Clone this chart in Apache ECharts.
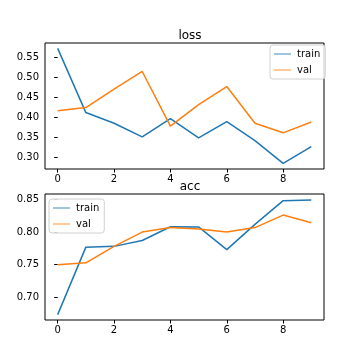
<!DOCTYPE html>
<html>
<head>
<meta charset="utf-8">
<script src="https://cdn.jsdelivr.net/npm/echarts@6/dist/echarts.min.js"></script>
<style>html,body{margin:0;padding:0;background:#fff;}#c{width:360px;height:360px;}</style>
</head>
<body>
<div id="c"></div>
<script>
const epochs = [0,1,2,3,4,5,6,7,8,9];
const lossTrain = [0.5715,0.4115,0.385,0.351,0.3965,0.3483,0.389,0.3415,0.285,0.3265];
const lossVal   = [0.4158,0.424,0.470,0.514,0.3775,0.4315,0.4765,0.385,0.361,0.388];
const accTrain  = [0.6727,0.7768,0.778,0.787,0.8083,0.808,0.773,0.812,0.8485,0.8495];
const accVal    = [0.7495,0.7526,0.778,0.800,0.807,0.8047,0.800,0.807,0.8263,0.8145];
const xTicks = [0,2,4,6,8];
const lossTicks = [0.30,0.35,0.40,0.45,0.50,0.55];
const accTicks = [0.70,0.75,0.80,0.85];

const F = 'DejaVu Sans';
const C1 = '#1f77b4', C2 = '#ff7f0e';
function pairs(ys){ return epochs.map((x,i)=>[x,ys[i]]); }
function xAxis(idx){
  return {type:'value', gridIndex:idx, min:-0.45, max:9.45,
    axisLine:{show:false}, splitLine:{show:false},
    axisTick:{show:true, length:3.5, customValues:xTicks, lineStyle:{color:'#000'}},
    axisLabel:{customValues:xTicks, margin:5, fontFamily:F, fontSize:10, color:'#000', formatter:v=>String(v)}};
}
function yAxis(idx,min,max,ticks){
  return {type:'value', gridIndex:idx, min:min, max:max,
    axisLine:{show:false}, splitLine:{show:false},
    axisTick:{show:true, length:3.5, customValues:ticks, lineStyle:{color:'#000'}},
    axisLabel:{customValues:ticks, margin:6, fontFamily:F, fontSize:10, color:'#000', formatter:v=>v.toFixed(2)}};
}
function line(name, color, idx, ys){
  return {type:'line', name:name, xAxisIndex:idx, yAxisIndex:idx, data:pairs(ys),
    symbol:'none', showSymbol:false, lineStyle:{color:color, width:1.5}, itemStyle:{color:color}, animation:false};
}
function legend(left, top){
  return {orient:'vertical', left:left, top:top, data:['train','val'], icon:'path://M0,0H20V1H0Z',
    itemWidth:17, itemHeight:2, itemGap:6, padding:[4,5,4,4], borderColor:'#d0d0d0', borderWidth:1, borderRadius:3,
    backgroundColor:'rgba(255,255,255,0.8)', textStyle:{fontFamily:F, fontSize:10, color:'#000', padding:[0,0,0,1]}};
}
const chart = echarts.init(document.getElementById('c'), null, {renderer:'canvas'});
chart.setOption({
  animation:false,
  backgroundColor:'#fff',
  title:[
    {text:'loss', left:185, top:25, textAlign:'center', textStyle:{fontFamily:F, fontSize:12, fontWeight:'normal', color:'#000'}},
    {text:'acc', left:185, top:176, textAlign:'center', textStyle:{fontFamily:F, fontSize:12, fontWeight:'normal', color:'#000'}}
  ],
  grid:[
    {left:45, top:43, width:279, height:126, show:true, borderColor:'#000', borderWidth:1, backgroundColor:'transparent'},
    {left:45, top:194, width:279, height:126, show:true, borderColor:'#000', borderWidth:1, backgroundColor:'transparent'}
  ],
  legend:[legend(270,45), legend(49,199)],
  xAxis:[xAxis(0), xAxis(1)],
  yAxis:[yAxis(0,0.2708,0.585,lossTicks), yAxis(1,0.6644,0.8588,accTicks)],
  series:[
    line('train',C1,0,lossTrain), line('val',C2,0,lossVal),
    line('train',C1,1,accTrain), line('val',C2,1,accVal)
  ]
});
</script>
</body>
</html>
